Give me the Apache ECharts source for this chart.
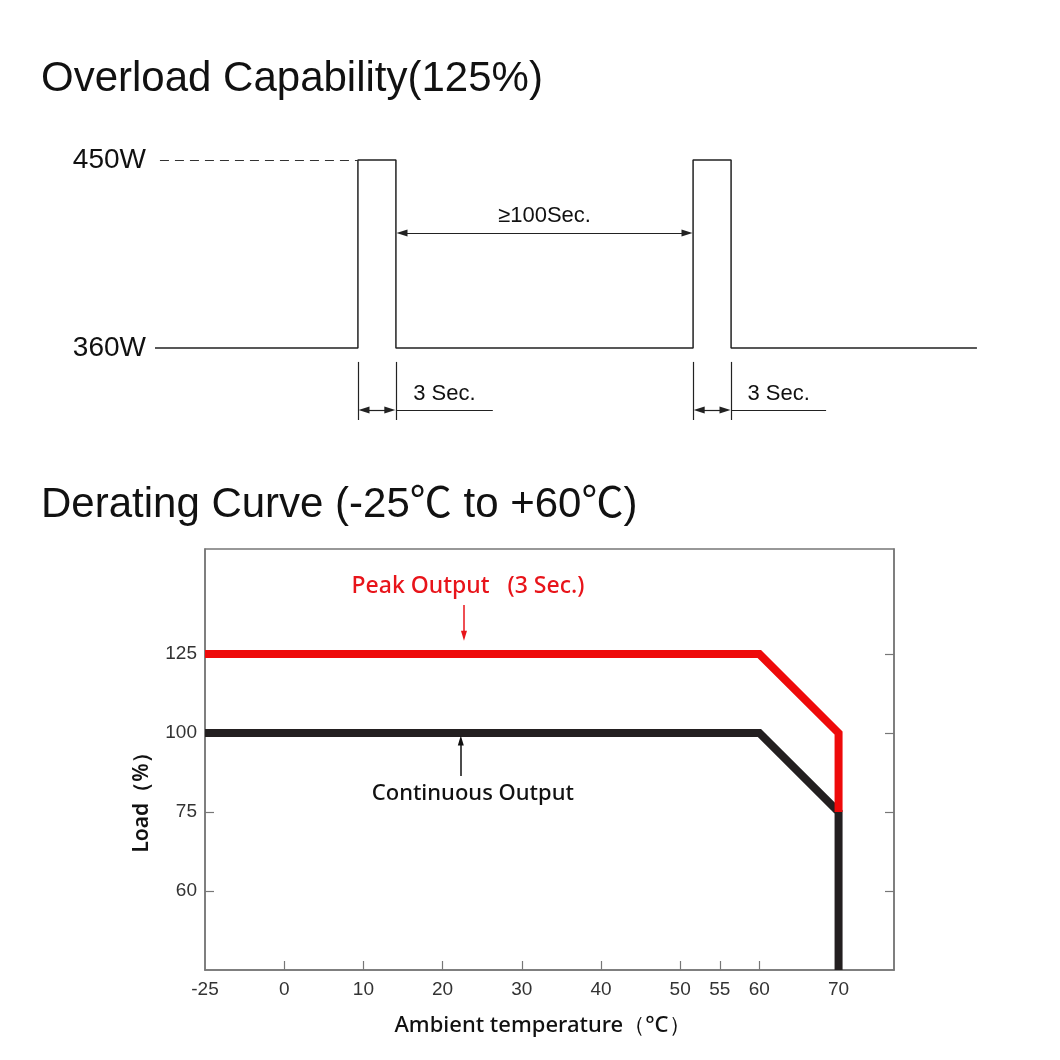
<!DOCTYPE html>
<html>
<head>
<meta charset="utf-8">
<title>Overload Capability / Derating Curve</title>
<script src="https://cdn.jsdelivr.net/npm/echarts@6/dist/echarts.min.js"></script>
<style>
  html, body { margin: 0; padding: 0; background: #fff; }
  #main { width: 1060px; height: 1060px; }
</style>
</head>
<body>
<div id="main"></div>
<script>
// ---- overload pulse diagram (schematic time units, 1 unit = one 3 Sec. pulse)
const overloadTime = [0, 5.34, 5.34, 6.34, 6.34, 14.16, 14.16, 15.16, 15.16, 21.63]
const overloadWatt = [360, 360, 450, 450, 360, 360, 450, 450, 360, 360]
const wattTicks = [360, 450]

// ---- derating curve
const tempTicks = [-25, 0, 10, 20, 30, 40, 50, 55, 60, 70]
const tempSlots = [0, 1, 2, 3, 4, 5, 6, 6.5, 7, 8]
const loadTicks = [60, 75, 100, 125]
const loadSlots = [0, 1, 2, 3]

const peakTemp = [-25, 60, 70, 70]
const peakLoad = [125, 125, 100, 75]
const contTemp = [-25, 60, 70, 70]
const contLoad = [100, 100, 75, 45]

// the drawing's axes are not linear: map a value onto its tick slot
const toSlot = (v, ticks, slots) => {
  let i = 0
  while (i < ticks.length - 2 && v > ticks[i + 1]) i++
  const t = (v - ticks[i]) / (ticks[i + 1] - ticks[i])
  return slots[i] + t * (slots[i + 1] - slots[i])
}
const tx = (v) => toSlot(v, tempTicks, tempSlots)
const ly = (v) => toSlot(v, loadTicks, loadSlots)
const slotLabel = (s, ticks, slots) => {
  const i = slots.findIndex((x) => Math.abs(x - s) < 1e-6)
  return i < 0 ? '' : String(ticks[i])
}

const sans = "'Liberation Sans', Arial, sans-serif"
const din = "'Noto Sans', 'DejaVu Sans', sans-serif"
const ink = '#222'
const frame = '#777'

const dim = (x1, y1, x2, y2, opts = {}) => [
  Object.assign({ coord: [x1, y1], symbol: opts.from || 'none', symbolSize: [7, 11] }, opts.label ? { label: opts.label } : {}),
  { coord: [x2, y2], symbol: opts.to || 'none', symbolSize: [7, 11] }
]

const chart = echarts.init(document.getElementById('main'))
const option = {
  animation: false,
  backgroundColor: '#fff',
  title: [
    {
      text: 'Overload Capability(125%)',
      left: 41,
      top: 58,
      padding: 0,
      textStyle: { fontFamily: sans, fontSize: 42, fontWeight: 'normal', color: '#111' }
    },
    {
      text: 'Derating Curve (-25℃ to +60℃)',
      left: 41,
      top: 484,
      padding: 0,
      textStyle: { fontFamily: "'Liberation Sans', 'Noto Sans CJK SC', sans-serif", fontSize: 42, fontWeight: 'normal', color: '#111' }
    }
  ],
  grid: [
    { left: 155, top: 139, width: 836, height: 292.5, outerBoundsMode: 'none' },
    { left: 205, top: 549, width: 689, height: 421, show: true, borderColor: frame, borderWidth: 1.5, outerBoundsMode: 'none' }
  ],
  xAxis: [
    { gridIndex: 0, type: 'value', min: 0, max: 22, show: false },
    {
      gridIndex: 1,
      type: 'value',
      min: 0,
      max: 8.7,
      axisLine: { onZero: false, lineStyle: { color: frame, width: 1.5 } },
      splitLine: { show: false },
      axisTick: { inside: true, length: 9, lineStyle: { color: frame, width: 1.2 }, customValues: tempSlots.slice(1) },
      axisLabel: {
        customValues: tempSlots,
        formatter: (v) => slotLabel(v, tempTicks, tempSlots),
        margin: 10,
        color: '#333',
        fontFamily: sans,
        fontSize: 19
      },
      name: 'Ambient temperature（°C）',
      nameLocation: 'middle',
      nameGap: 45,
      nameTextStyle: { fontFamily: din, fontSize: 22, fontWeight: 500, color: '#111', padding: [0, 14, 0, 0] }
    }
  ],
  yAxis: [
    {
      gridIndex: 0,
      type: 'value',
      min: 320,
      max: 460,
      axisLine: { show: false },
      axisTick: { show: false },
      splitLine: { show: false },
      axisLabel: {
        customValues: wattTicks,
        formatter: '{value}W',
        margin: 9,
        color: '#111',
        fontFamily: sans,
        fontSize: 28
      }
    },
    {
      gridIndex: 1,
      type: 'value',
      min: -1,
      max: 4.33,
      axisLine: { onZero: false, lineStyle: { color: frame, width: 1.5 } },
      splitLine: { show: false },
      axisTick: { inside: true, length: 9, lineStyle: { color: frame, width: 1.2 }, customValues: loadSlots },
      axisLabel: {
        customValues: loadSlots,
        formatter: (v) => slotLabel(v, loadTicks, loadSlots),
        margin: 8,
        color: '#333',
        fontFamily: sans,
        fontSize: 19
      },
      name: 'Load（%）',
      nameLocation: 'middle',
      nameRotate: 90,
      nameGap: 52,
      nameTextStyle: { fontFamily: din, fontSize: 21, fontWeight: 600, color: '#111', padding: [0, 76, 0, 0] }
    },
    {
      gridIndex: 1,
      type: 'value',
      position: 'right',
      min: -1,
      max: 4.33,
      axisLine: { onZero: false, lineStyle: { color: frame, width: 1.5 } },
      splitLine: { show: false },
      axisTick: { inside: true, length: 9, lineStyle: { color: frame, width: 1.2 }, customValues: loadSlots },
      axisLabel: { show: false }
    }
  ],
  series: [
    {
      name: 'Overload',
      type: 'line',
      xAxisIndex: 0,
      yAxisIndex: 0,
      data: overloadTime.map((t, i) => [t, overloadWatt[i]]),
      symbol: 'none',
      lineStyle: { color: ink, width: 1.5 },
      z: 3,
      markLine: {
        silent: true,
        animation: false,
        symbol: ['none', 'none'],
        lineStyle: { color: ink, width: 1.2, type: 'solid' },
        label: { show: false },
        data: [
          // dashed guide to 450W
          [
            { coord: [0.13, 450], symbol: 'none', lineStyle: { type: [9, 6], width: 1, color: '#333' } },
            { coord: [5.34, 450], symbol: 'none' }
          ],
          // >=100 Sec. gap
          dim(6.5, 415, 14.0, 415, {
            from: 'triangle', to: 'triangle',
            label: { show: true, position: 'middle', formatter: '≥100Sec.', distance: 6, color: '#111', fontFamily: sans, fontSize: 22 }
          }),
          // first 3 Sec. dimension
          dim(5.34, 353.3, 5.34, 325.5),
          dim(6.34, 353.3, 6.34, 325.5),
          dim(5.5, 330.3, 6.18, 330.3, { from: 'triangle', to: 'triangle' }),
          dim(6.34, 330.3, 8.89, 330.3, {
            label: { show: true, position: 'middle', formatter: '3 Sec.', distance: 5, color: '#111', fontFamily: sans, fontSize: 22 }
          }),
          // second 3 Sec. dimension
          dim(14.16, 353.3, 14.16, 325.5),
          dim(15.16, 353.3, 15.16, 325.5),
          dim(14.32, 330.3, 15.0, 330.3, { from: 'triangle', to: 'triangle' }),
          dim(15.16, 330.3, 17.66, 330.3, {
            label: { show: true, position: 'middle', formatter: '3 Sec.', distance: 5, color: '#111', fontFamily: sans, fontSize: 22 }
          })
        ]
      }
    },
    {
      name: 'Continuous Output',
      type: 'line',
      xAxisIndex: 1,
      yAxisIndex: 1,
      data: contTemp.map((t, i) => [tx(t), ly(contLoad[i])]),
      symbol: 'none',
      lineStyle: { color: '#231f20', width: 8, join: 'miter' },
      z: 3,
      markLine: {
        silent: true,
        animation: false,
        symbol: ['none', 'none'],
        lineStyle: { color: '#111', width: 1.5, type: 'solid' },
        data: [
          [
            {
              coord: [tx(22.3), ly(86.4)],
              symbol: 'none',
              label: { show: true, position: 'start', formatter: 'Continuous Output', distance: 7, color: '#111', fontFamily: din, fontSize: 22, fontWeight: 500, offset: [12, 0] }
            },
            { coord: [tx(22.3), ly(97.6)], symbol: 'triangle', symbolSize: [6, 10] }
          ]
        ]
      }
    },
    {
      name: 'Peak Output',
      type: 'line',
      xAxisIndex: 1,
      yAxisIndex: 1,
      data: peakTemp.map((t, i) => [tx(t), ly(peakLoad[i])]),
      symbol: 'none',
      lineStyle: { color: '#ee0a0a', width: 8, join: 'miter' },
      z: 4,
      markLine: {
        silent: true,
        animation: false,
        symbol: ['none', 'none'],
        lineStyle: { color: '#e8141a', width: 1.5, type: 'solid' },
        data: [
          [
            {
              coord: [tx(22.7), ly(140.5)],
              symbol: 'none',
              label: { show: true, position: 'start', formatter: 'Peak Output   (3 Sec.)', distance: 7, color: '#e8141a', fontFamily: din, fontSize: 23, fontWeight: 500, offset: [4, 0] }
            },
            { coord: [tx(22.7), ly(130.8)], symbol: 'triangle', symbolSize: [6, 10] }
          ]
        ]
      }
    }
  ]
}
chart.setOption(option)
</script>
</body>
</html>
